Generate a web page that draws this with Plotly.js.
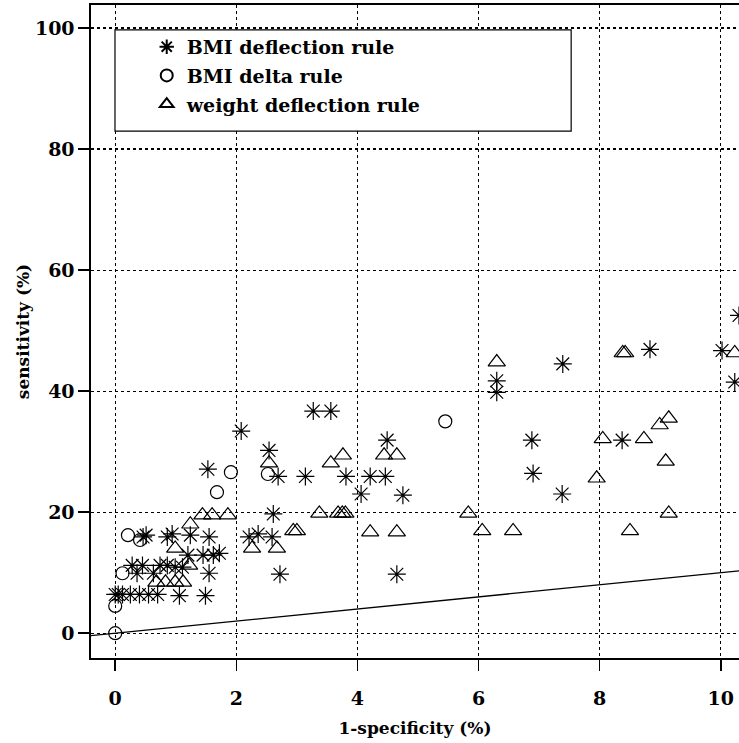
<!DOCTYPE html>
<html>
<head>
<meta charset="utf-8">
<script src="https://cdn.plot.ly/plotly-3.0.1.min.js"></script>
<style>html,body{margin:0;padding:0;background:#fff;}#chart{width:739px;height:743px;}</style>
</head>
<body>
<div id="chart"></div>
<script>
// BMI deflection rule (asterisks)
const bmiDeflX = [10.30, 10.02, 10.23, 8.83, 7.39, 6.30, 6.30, 6.88, 8.37, 6.90, 7.38, 4.49, 4.46, 4.75, 4.65,
  3.27, 3.56, 2.08, 2.54, 2.69, 3.14, 3.81, 4.21, 4.06, 2.61, 2.21, 2.36, 2.59, 2.72, 1.53,
  0.51, 0.46, 0.86, 0.94, 1.24, 1.55, 1.20, 1.45, 1.62, 1.72, 0.28, 0.45, 0.74, 0.86, 0.99, 1.11,
  0.36, 0.63, 1.55, 0.00, 0.05, 0.12, 0.25, 0.40, 0.55, 0.70, 1.06, 1.49];
const bmiDeflY = [52.5, 46.7, 41.5, 46.9, 44.5, 41.7, 39.8, 31.9, 31.9, 26.4, 23.0, 31.9, 25.9, 22.8, 9.75,
  36.7, 36.7, 33.4, 30.2, 25.9, 25.9, 25.9, 25.9, 23.0, 19.7, 15.9, 16.4, 15.9, 9.75, 27.1,
  16.2, 15.9, 15.9, 16.4, 16.2, 15.9, 12.9, 12.9, 12.9, 13.2, 11.2, 11.2, 11.2, 11.2, 10.9, 10.9,
  9.9, 9.9, 9.9, 6.4, 6.4, 6.4, 6.4, 6.4, 6.4, 6.4, 6.2, 6.2];

// BMI delta rule (circles)
const bmiDeltaX = [0.00, 0.00, 0.12, 0.21, 0.41, 1.68, 1.91, 2.52, 5.45];
const bmiDeltaY = [0.0, 4.5, 9.9, 16.2, 15.4, 23.3, 26.6, 26.3, 35.0];

// weight deflection rule (triangles)
const weightX = [10.23, 8.38, 8.42, 6.30, 8.05, 8.73, 8.99, 9.14, 9.09, 7.95, 9.14, 5.83, 6.06, 6.57, 8.50,
  4.44, 4.65, 4.21, 4.65, 2.54, 3.56, 3.76, 3.37, 3.68, 3.75, 3.80, 2.94, 3.00, 2.26, 2.67,
  1.44, 1.60, 1.86, 1.24, 0.99, 1.22, 0.68, 0.83, 0.99, 1.12];
const weightY = [46.3, 46.3, 46.3, 44.8, 32.1, 32.1, 34.4, 35.5, 28.4, 25.6, 19.8, 19.8, 16.9, 16.9, 16.9,
  29.4, 29.4, 16.7, 16.7, 28.1, 28.1, 29.4, 19.8, 19.8, 19.8, 19.8, 16.9, 16.9, 14.0, 14.0,
  19.5, 19.5, 19.5, 18.0, 14.0, 11.2, 8.4, 8.4, 8.4, 8.4];

// chance (diagonal) line endpoints
const chanceX = [-1, 11];
const chanceY = [-1, 11];

const seriesNames = ["BMI deflection rule", "BMI delta rule", "weight deflection rule"];
const xTicks = [0, 2, 4, 6, 8, 10];
const yTicks = [0, 20, 40, 60, 80, 100];

const FONT = "DejaVu Serif, Liberation Serif, serif";
const mk = (sym, size) => ({symbol: sym, size: size, color: "#000", line: {color: "#000", width: 1.2}});

const traces = [
  {x: chanceX, y: chanceY, mode: "lines", line: {color: "#000", width: 1.3}, showlegend: false, hoverinfo: "skip"},
  {x: bmiDeflX, y: bmiDeflY, mode: "markers", name: seriesNames[0], legendgroup: "a", marker: mk("asterisk-open", 15)},
  {x: bmiDeltaX, y: bmiDeltaY, mode: "markers", name: seriesNames[1], legendgroup: "b", marker: mk("circle-open", 13)},
  {x: weightX, y: weightY, mode: "markers", name: seriesNames[2], legendgroup: "c", marker: mk("triangle-up-open", 15)}
];

const axisCommon = {
  showline: true, linecolor: "#000", linewidth: 1.6,
  ticks: "outside", ticklen: 11, tickwidth: 1.5, tickcolor: "#000",
  showgrid: true, gridcolor: "#000", gridwidth: 1.1, griddash: "dot",
  zeroline: false,
  tickfont: {family: FONT, size: 19, color: "#000", weight: "bold"}
};

const layout = {
  width: 739, height: 743,
  margin: {l: 91, r: 0, t: 5, b: 85},
  paper_bgcolor: "#fff", plot_bgcolor: "#fff",
  font: {family: FONT, color: "#000"},
  xaxis: Object.assign({}, axisCommon, {
    range: [-0.40, 10.30], tickvals: xTicks, mirror: true,
    ticklabelstandoff: 12,
    title: {text: "1-specificity (%)", font: {family: FONT, size: 17, color: "#000", weight: "bold"}, standoff: 13}
  }),
  yaxis: Object.assign({}, axisCommon, {
    range: [-4.1, 103.8], tickvals: yTicks, mirror: false,
    title: {text: "sensitivity (%)", font: {family: FONT, size: 17, color: "#000", weight: "bold"}, standoff: 1}
  }),
  shapes: [{
    type: "rect", xref: "paper", yref: "paper", layer: "above",
    x0: 0.037, x1: 0.741, y0: 0.807, y1: 0.962,
    line: {color: "#000", width: 1.2}, fillcolor: "#fff"
  }],
  legend: {
    x: 0.086, y: 0.965, xanchor: "left", yanchor: "top",
    bgcolor: "rgba(0,0,0,0)", borderwidth: 0,
    font: {family: FONT, size: 19, color: "#000", weight: "bold"},
    traceorder: "grouped", tracegroupgap: 1, itemsizing: "constant"
  },
  showlegend: true
};

Plotly.newPlot("chart", traces, layout, {staticPlot: true, displayModeBar: false});
</script>
</body>
</html>
